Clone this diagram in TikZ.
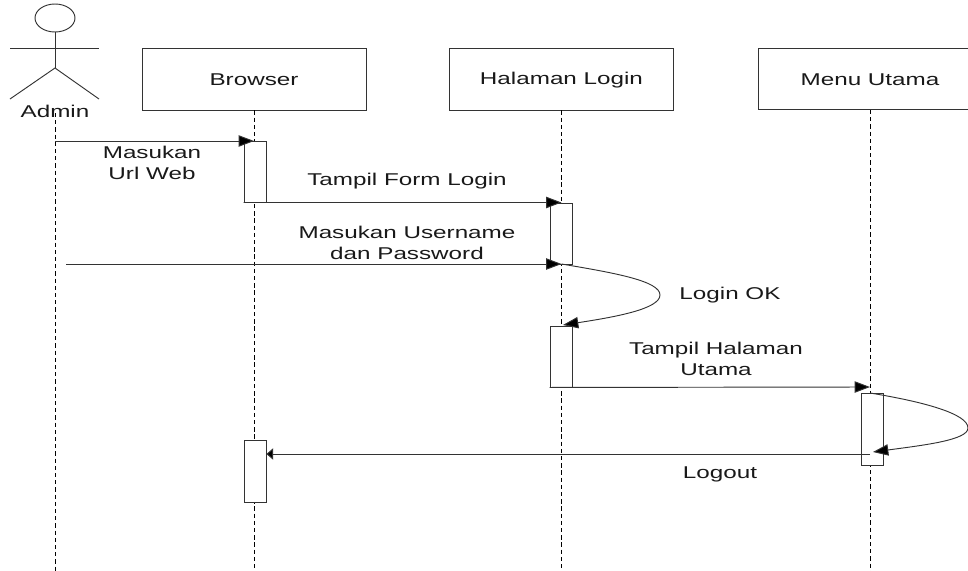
\documentclass[tikz,border=0pt]{standalone}
\usepackage{fontspec}
\setmainfont[FakeStretch=1.42]{Liberation Sans}
\usetikzlibrary{arrows.meta}
\def\px{0.75pt}
\tikzset{
  x=0.75pt,y=-0.75pt,
  line/.style={draw=black!80,line width=0.7pt},
  life/.style={draw=black,line width=0.7pt,dash pattern=on 3.2pt off 2.2pt},
  msg/.style={line,-{Triangle[length=11.5pt,width=8.5pt,fill=black]}},
  obj/.style={line,fill=white,minimum width=224*\px,minimum height=62*\px,inner sep=0pt},
  openobj/.style={fill=white,minimum width=209*\px,minimum height=61*\px,inner sep=0pt},
  act/.style={line,fill=white,minimum width=22*\px,inner sep=0pt},
  lbl/.style={font=\fontsize{12.8pt}{15.8pt}\selectfont,align=center,inner sep=0pt,text=black!90},
}
\begin{document}
\begin{tikzpicture}
\useasboundingbox (0,0) rectangle (968,571);
% objects
\node[obj] (browser) at (254,79) {};
\node[obj] (login) at (561.5,79) {};
\node[openobj] (menu) at (863.5,79) {};
\draw[line] (menu.north east) -- (menu.north west) -- (menu.south west) -- (menu.south east);
% lifeline ends
\coordinate (adminTop) at (55,113);
\coordinate (adminEnd) at (55,571);
\coordinate (browserEnd) at (254,571);
\coordinate (loginEnd) at (561.5,571);
\coordinate (menuTop) at (870,110);
\coordinate (menuEnd) at (870,571);
\draw[life] (adminTop) -- (adminEnd);
\draw[life] (browser.south) -- (browserEnd);
\draw[life] (login.south) -- (loginEnd);
\draw[life] (menuTop) -- (menuEnd);
% actor
\coordinate (neck) at (55,32);
\coordinate (hip) at (55,68);
\coordinate (handL) at (10,48.5);
\coordinate (handR) at (99,48.5);
\coordinate (footL) at (10,99);
\coordinate (footR) at (99,99);
\draw[line] (55,18) ellipse (20 and 14);
\draw[line] (neck) -- (hip);
\draw[line] (handL) -- (handR);
\draw[line] (footL) -- (hip) -- (footR);
% activations
\node[act,minimum height=61*\px] (a1) at (255,171.5) {};
\node[act,minimum height=61*\px] (a2) at (561,233.5) {};
\node[act,minimum height=61*\px] (a3) at (561,356.5) {};
\node[act,minimum height=72*\px] (a4) at (872,429) {};
\node[act,minimum height=62*\px] (a5) at (255,471) {};
% message anchors
\coordinate (m1a) at (55,141);
\coordinate (m1b) at (254,141);
\coordinate (m2b) at (561.5,202.5);
\coordinate (m3a) at (66,264);
\coordinate (m3b) at (561.5,264);
\coordinate (m4b) at (563,325);
\coordinate (m5b) at (870,387);
\coordinate (m6a) at (870,393);
\coordinate (m6b) at (873,452);
\coordinate (m7a) at (870,454);
\draw[msg] (m1a) -- (m1b);
\draw[msg] (a1.south west) -- (m2b);
\draw[msg] (m3a) -- (m3b);
\draw[msg] (m3b) .. controls (615,273) and (660,281) .. (660,295) .. controls (660,309) and (615,317) .. (m4b);
\draw[msg] (a3.south west) -- (m5b);
\draw[msg] (m6a) .. controls (925,402) and (968,414) .. (968,428) .. controls (968,440) and (925,445) .. (m6b);
\draw[line,-{Triangle[length=5pt,width=8.5pt,fill=black]}] (m7a) -- (a5.east |- m7a);
% labels
\node[lbl] (tAdmin) at (55,111) {Admin};
\node[lbl] (tBrowser) at (254,80) {Browser};
\node[lbl] (tLogin) at (561.5,80) {Halaman Login};
\node[lbl] (tMenu) at (870,80) {Menu Utama};
\node[lbl] (tUrl) at (152,162.5) {Masukan\\Url Web};
\node[lbl] (tForm) at (407,181) {Tampil Form Login};
\node[lbl] (tUser) at (407,242.5) {Masukan Username\\dan Password};
\node[lbl] (tOk) at (730,295) {Login OK};
\node[lbl] (tUtama) at (716,358.5) {Tampil Halaman\\Utama};
\node[lbl] (tOut) at (720,474) {Logout};
\end{tikzpicture}
\end{document}
